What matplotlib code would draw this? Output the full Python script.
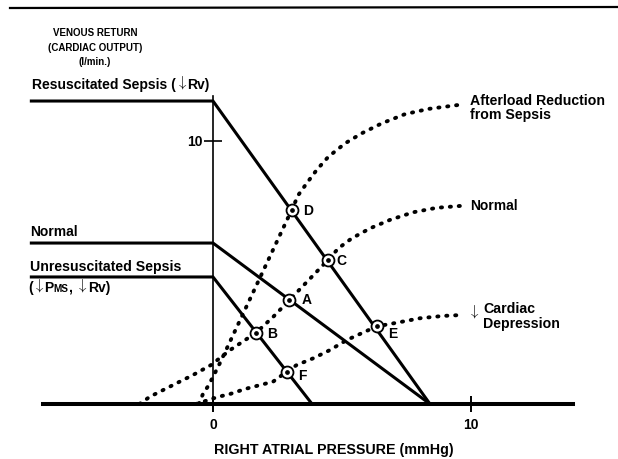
import matplotlib
matplotlib.use("Agg")
import matplotlib.pyplot as plt
from matplotlib.lines import Line2D

# ---------------- data ----------------
# Venous return curves: x = right atrial pressure (mmHg), y = venous return (l/min)
vr_x = [-7.1, 0.0, 8.41]
vr_resuscitated = [11.52, 11.52, 0.0]
vr_normal = [6.12, 6.12, 0.0]
vr_unres_x = [-7.1, 0.0, 3.84]
vr_unresuscitated = [4.83, 4.83, 0.0]

# Cardiac function curves (dotted)
cf_afterload_x = [-0.55, -0.39, -0.19, 0.0, 0.27, 1.82, 3.05, 3.31, 3.63, 4.02, 4.47,
                  5.12, 5.76, 6.54, 7.44, 8.35, 9.51]
cf_afterload_y = [0.0, 0.38, 0.68, 1.03, 1.56, 4.80, 7.38, 7.95, 8.39, 8.90, 9.40,
                  9.91, 10.29, 10.67, 11.02, 11.22, 11.37]
cf_normal_x = [-2.85, -2.44, -1.41, -0.78, -0.08, 0.66, 1.67, 2.34, 2.96, 4.46, 4.86,
               5.38, 6.09, 6.86, 7.76, 8.67, 9.70]
cf_normal_y = [0.0, 0.28, 0.79, 1.10, 1.48, 2.05, 2.71, 3.32, 3.95, 5.48, 5.92,
               6.30, 6.68, 7.00, 7.29, 7.46, 7.54]
cf_depression_x = [-0.65, 0.19, 0.66, 1.24, 2.33, 2.86, 3.24, 3.89, 4.53, 5.18, 5.76,
                   6.34, 7.12, 8.02, 8.93, 9.57]
cf_depression_y = [0.0, 0.27, 0.38, 0.57, 0.85, 1.23, 1.48, 1.74, 2.05, 2.43, 2.69,
                   2.95, 3.09, 3.26, 3.35, 3.38]

# Equilibrium points
point_labels = ["D", "C", "A", "B", "F", "E"]
point_x = [3.05, 4.46, 2.96, 1.67, 2.86, 6.34]
point_y = [7.38, 5.48, 3.95, 2.71, 1.23, 2.95]

x_ticks = [0, 10]
x_tick_labels = ["0", "10"]
y_ticks = [10]
y_tick_labels = ["10"]

# ---------------- layout helpers (pixel -> data) ----------------
W, H = 618, 459
X0, XS = 213.0, 25.8   # pixel of x=0, pixels per mmHg
Y0, YS = 404.0, 26.3   # pixel of y=0, pixels per l/min


def px2x(p):
    return (p - X0) / XS


def py2y(p):
    return (Y0 - p) / YS


FONT = ["Liberation Sans", "DejaVu Sans"]
plt.rcParams["font.family"] = FONT
plt.rcParams["font.weight"] = "bold"
plt.rcParams["mathtext.fontset"] = "cm"

fig = plt.figure(figsize=(W / 100, H / 100), dpi=100)
ax = fig.add_axes([0, 0, 1, 1])
ax.set_xlim(px2x(0), px2x(W))
ax.set_ylim(py2y(H), py2y(0))

# axes as spines through the origin
for s in ("top", "right"):
    ax.spines[s].set_visible(False)
ax.spines["left"].set_position(("data", 0))
ax.spines["bottom"].set_position(("data", 0))
ax.spines["left"].set_bounds(0, 11.72)
ax.spines["bottom"].set_bounds(-6.6, 13.95)
ax.spines["left"].set_linewidth(1.2)
ax.spines["bottom"].set_linewidth(2.9)
ax.patch.set_visible(False)

ax.set_xticks(x_ticks)
ax.set_xticklabels(x_tick_labels, fontsize=10, fontweight="bold")
ax.set_yticks(y_ticks)
ax.set_yticklabels(y_tick_labels, fontsize=10, fontweight="bold")
ax.tick_params(axis="x", direction="inout", length=11.5, width=1.4, pad=4.5)
ax.tick_params(axis="y", direction="inout", length=13, width=1.2, pad=0.7)

# venous return lines
solid = dict(color="black", lw=2.2, solid_capstyle="butt", solid_joinstyle="miter")
ax.plot(vr_x, vr_resuscitated, **solid)
ax.plot(vr_x, vr_normal, **solid)
ax.plot(vr_unres_x, vr_unresuscitated, **solid)

# cardiac function curves
dotted = dict(color="black", lw=2.8, linestyle=(0, (0.3, 2.0)), dash_capstyle="round")
ax.plot(cf_afterload_x, cf_afterload_y, **dotted)
ax.plot(cf_normal_x, cf_normal_y, **dotted)
ax.plot(cf_depression_x, cf_depression_y, **dotted)

# equilibrium markers
ax.plot(point_x, point_y, linestyle="none", marker="o", markersize=8.6,
        markerfacecolor="white", markeredgecolor="black", markeredgewidth=1.3, zorder=5)
ax.plot(point_x, point_y, linestyle="none", marker="o", markersize=2.4,
        markerfacecolor="black", markeredgecolor="black", zorder=6)
label_offsets_px = {"D": (11.5, -5), "C": (8.4, -5), "A": (12.4, -4),
                    "B": (10.7, -5), "F": (11.3, -8), "E": (11.3, -11.7)}
for lab, x, y in zip(point_labels, point_x, point_y):
    dx, dy = label_offsets_px[lab]
    ax.annotate(lab, (x, y), xytext=(dx * 0.72, dy * 0.72), textcoords="offset points",
                ha="left", va="baseline", fontsize=10, fontweight="bold")


# ---------------- texts ----------------
def chain(xp, yp, pieces):
    """Write text pieces one after the other on a common baseline (pixel position)."""
    y = py2y(yp)
    prev = None
    for s, kw in pieces:
        opts = dict(ha="left", va="baseline", fontweight="bold", color="black")
        kw = dict(kw)
        rise = kw.pop("rise", 0.0)
        opts.update(kw)
        if prev is None:
            prev = ax.annotate(s, xy=(px2x(xp), y), xycoords="data",
                               xytext=(0, rise), textcoords="offset points", **opts)
        else:
            prev = ax.annotate(s, xy=(1, y), xycoords=(prev, "data"),
                               xytext=(0, rise), textcoords="offset points", **opts)
    return prev


ARR = r"$\mathbf{\downarrow}$"
arrow_kw = dict(fontsize=10.5, rise=1.5)
txt = dict(fontweight="bold", color="black")

ax.text(px2x(95), py2y(47.5), "VENOUS RETURN\n(CARDIAC OUTPUT)\n(l/min.)",
        ha="center", va="center", multialignment="center", linespacing=1.55,
        fontsize=7.0, **txt)
chain(32, 89, [("Resuscitated Sepsis (", dict(fontsize=10)), (ARR, arrow_kw),
               ("Rv)", dict(fontsize=10))])
ax.text(px2x(30), py2y(236.5), "Normal", ha="left", va="baseline", fontsize=10, **txt)
ax.text(px2x(30), py2y(271.5), "Unresuscitated Sepsis", ha="left", va="baseline",
        fontsize=10.2, **txt)
chain(28, 292, [("(", dict(fontsize=10)), (ARR, arrow_kw), ("P", dict(fontsize=10)),
                ("MS", dict(fontsize=7.2)), (", ", dict(fontsize=10)), (ARR, arrow_kw),
                ("Rv)", dict(fontsize=10))])

ax.text(px2x(470), py2y(105), "Afterload Reduction", ha="left", va="baseline",
        fontsize=10.2, **txt)
ax.text(px2x(470), py2y(119.5), "from Sepsis", ha="left", va="baseline", fontsize=10.2, **txt)
ax.text(px2x(470), py2y(210), "Normal", ha="left", va="baseline", fontsize=10, **txt)
chain(468, 318, [(ARR, arrow_kw)])
ax.text(px2x(483), py2y(313), "Cardiac", ha="left", va="baseline", fontsize=10.2, **txt)
ax.text(px2x(483), py2y(328), "Depression", ha="left", va="baseline", fontsize=10.2, **txt)

ax.text(px2x(334), py2y(454), "RIGHT ATRIAL PRESSURE (mmHg)", ha="center",
        va="baseline", fontsize=10.3, **txt)

# page rule at the top of the scan
fig.add_artist(Line2D([10 / W, 1.0], [1 - 8 / H, 1 - 7 / H], transform=fig.transFigure,
                      color="black", lw=1.6))

fig.savefig("out.png", dpi=100)
